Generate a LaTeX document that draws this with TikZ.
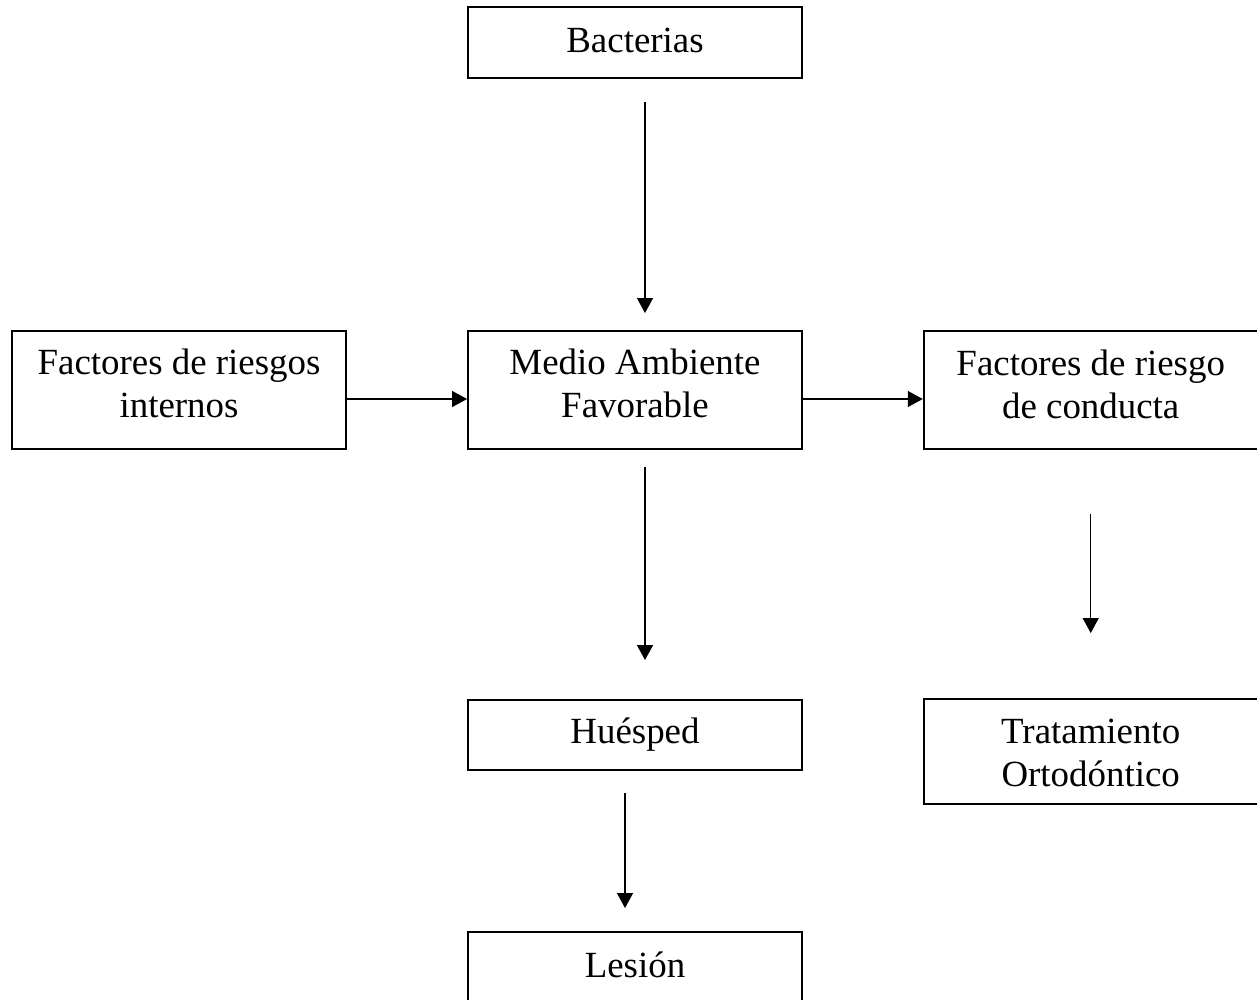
\documentclass[tikz,border=0pt]{standalone}
\usepackage{fontspec}
\setmainfont{Liberation Serif}
\usetikzlibrary{arrows.meta,calc}
\tikzset{
  box/.style={draw, line width=1.1pt, inner sep=0pt, minimum width=6.68cm},
  lbl/.style={inner sep=0pt, anchor=base, font=\fontsize{21}{25}\selectfont},
  arr/.style={line width=0.7pt, -{Triangle[length=0.3cm,width=0.32cm]}}
}
\newcommand{\twol}[2]{\begin{tabular}[t]{@{}c@{}}#1\\#2\end{tabular}}
\begin{document}
\begin{tikzpicture}[x=0.02cm,y=-0.02cm]
\useasboundingbox (0,0) rectangle (1257,1000);
\clip (0,0) rectangle (1257,1000);
% boxes
\node[box, minimum height=1.42cm] (bact) at (635,42.5) {};
\node[box, minimum height=2.36cm] (medio) at (635,390) {};
\node[box, minimum height=2.36cm] (intern) at (179,390) {};
\node[box, minimum height=2.36cm] (cond) at (1090.7,390) {};
\node[box, minimum height=1.40cm] (hues) at (635,735) {};
\node[box, minimum height=2.10cm] (trat) at (1090.7,751.5) {};
\node[box, minimum height=1.42cm] (les) at (635,967.5) {};
% labels
\node[lbl] (tbact) at (635,52.7) {Bacterias};
\node[lbl] (tmedio) at (635,374) {\twol{Medio Ambiente}{Favorable}};
\node[lbl] (tintern) at (179,374) {\twol{Factores de riesgos}{internos}};
\node[lbl] (tcond) at (1090.7,375) {\twol{Factores de riesgo}{de conducta}};
\node[lbl] (thues) at (635,743) {Huésped};
\node[lbl] (ttrat) at (1090.7,743) {\twol{Tratamiento}{Ortodóntico}};
\node[lbl] (tles) at (635,977.5) {Lesión};
% arrows
\draw[arr] ($(bact.south)+(10,23)$) -- ($(medio.north)+(10,-17)$);
\draw[arr] ($(intern.east)+(0,9)$) -- ($(medio.west)+(0,9)$);
\draw[arr] ($(medio.east)+(0,9)$) -- ($(cond.west)+(0,9)$);
\draw[arr] ($(medio.south)+(10,17)$) -- ($(hues.north)+(10,-39)$);
\draw[arr] ($(cond.south)+(0,64)$) -- ($(trat.north)+(0,-65)$);
\draw[arr] ($(hues.south)+(-10,22)$) -- ($(les.north)+(-10,-23)$);
\end{tikzpicture}
\end{document}
